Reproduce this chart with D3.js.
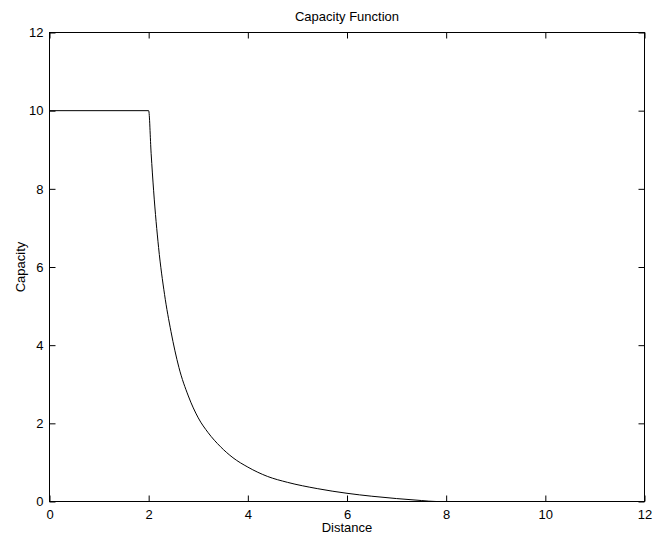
<!DOCTYPE html>
<html>
<head>
<meta charset="utf-8">
<script src="https://cdn.jsdelivr.net/npm/d3@7"></script>
<style>
body{margin:0;background:#fff;}
text{font-family:Arial,"Liberation Sans",Helvetica,sans-serif;}
</style>
</head>
<body>
<script>
// values
var distance = [0, 2, 2.05, 2.1, 2.2, 2.32, 2.45, 2.61, 2.8, 3.0, 3.2, 3.45, 3.7, 4.0, 4.4, 4.8, 5.4, 6.0, 6.5, 7.0, 7.5, 7.8, 12];
var capacity = [10, 10, 8.9, 7.95, 6.5, 5.3, 4.35, 3.43, 2.7, 2.14, 1.76, 1.40, 1.12, 0.88, 0.64, 0.49, 0.33, 0.21, 0.135, 0.075, 0.025, 0, 0];
var xTicks = [0, 2, 4, 6, 8, 10, 12];
var yTicks = [0, 2, 4, 6, 8, 10, 12];

var W = 653, H = 540;
var mLeft = 49.5, mTop = 32.5, w = 595, h = 469;

var svg = d3.select("body").append("svg")
            .attr("width", W)
            .attr("height", H);

var g = svg.append("g").attr("transform", "translate(" + mLeft + "," + mTop + ")");

var x = d3.scaleLinear().domain([0, 12]).range([0, w]);
var y = d3.scaleLinear().domain([0, 12]).range([h, 0]);

//axes, ticks pointing inward on all four sides
g.append("g").attr("transform", "translate(0," + h + ")")
 .call(d3.axisBottom(x).tickValues(xTicks).tickSizeInner(-6).tickSizeOuter(0).tickPadding(8));
g.append("g")
 .call(d3.axisTop(x).tickValues(xTicks).tickSizeInner(-6).tickSizeOuter(0).tickFormat(""));
g.append("g")
 .call(d3.axisLeft(y).tickValues(yTicks).tickSizeInner(-6).tickSizeOuter(0).tickPadding(6));
g.append("g").attr("transform", "translate(" + w + ",0)")
 .call(d3.axisRight(y).tickValues(yTicks).tickSizeInner(-6).tickSizeOuter(0).tickFormat(""));

g.selectAll(".domain").remove();
g.selectAll(".tick line").attr("stroke", "#000");
g.selectAll(".tick text").attr("font-size", "13px").attr("fill", "#000")
  .attr("font-family", "Arial, 'Liberation Sans', Helvetica, sans-serif");

g.append("rect").attr("x", 0).attr("y", 0).attr("width", w).attr("height", h)
  .attr("fill", "none").attr("stroke", "#000").attr("stroke-width", 1);

var pts = distance.map(function(d, i){ return [d, capacity[i]]; });
var line = d3.line().x(function(d){ return x(d[0]); }).y(function(d){ return y(d[1]); })
             .curve(d3.curveMonotoneX);

g.append("path").datum(pts)
  .attr("d", line)
  .attr("fill", "none")
  .attr("stroke", "#000")
  .attr("stroke-width", 1);

svg.append("text").attr("x", mLeft + w / 2).attr("y", 21)
   .attr("text-anchor", "middle").attr("font-size", "13px").text("Capacity Function");

svg.append("text").attr("x", mLeft + w / 2).attr("y", 532)
   .attr("text-anchor", "middle").attr("font-size", "13px").text("Distance");

svg.append("text").attr("transform", "translate(25," + (mTop + h / 2) + ") rotate(-90)")
   .attr("text-anchor", "middle").attr("font-size", "13px").text("Capacity");
</script>
</body>
</html>
